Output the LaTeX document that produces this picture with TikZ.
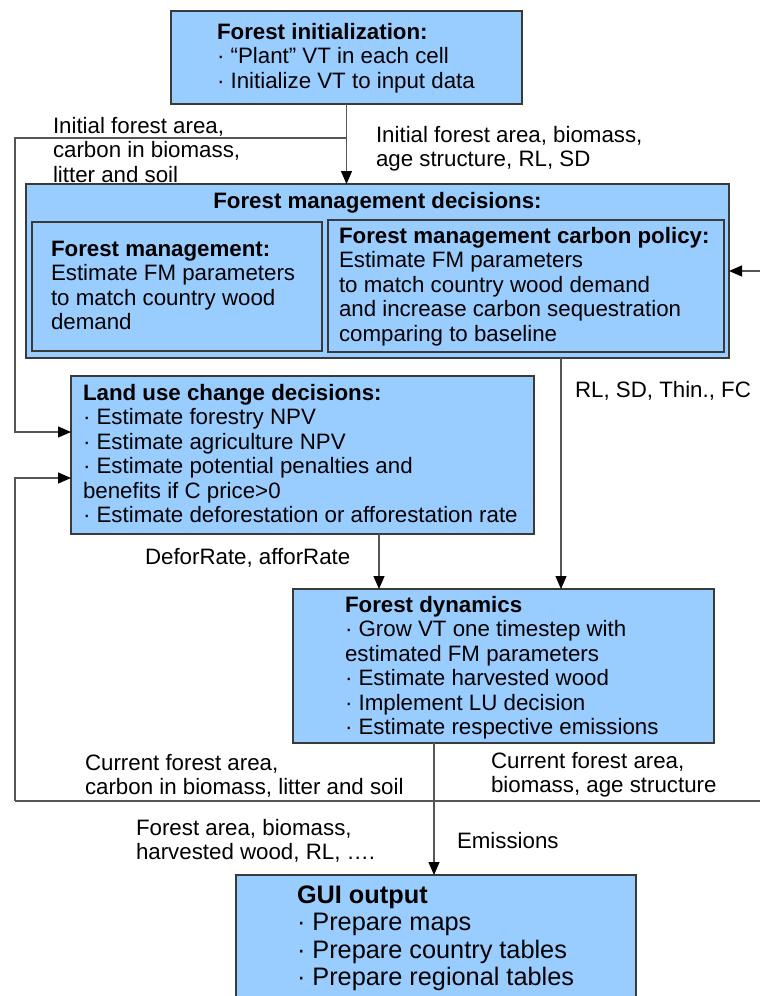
\documentclass[tikz,border=0pt]{standalone}
\usepackage{fontspec}
\setmainfont{Liberation Sans}
\usetikzlibrary{arrows.meta}
\definecolor{boxfill}{HTML}{99CCFF}
\definecolor{boxline}{HTML}{3A3A3A}
\definecolor{wirecol}{HTML}{555555}
% left-aligned lines whose baseline is that of the first line
\newcommand\ml[1]{\vtop{\let\\\cr\halign{##\hfil\cr#1\crcr}}}

\begin{document}
\begin{tikzpicture}[x=1pt,y=-1pt,
  every node/.style={font=\fontsize{22.3}{24.5}\selectfont, inner sep=0pt, outer sep=0pt},
  box/.style={draw=boxline, fill=boxfill, line width=1.3pt, anchor=north west},
  txt/.style={anchor=base west},
  wire/.style={draw=wirecol, line width=1.3pt},
  arr/.style={wire, -{Triangle[length=13pt,width=11pt,black]}}]

\useasboundingbox (0,0) rectangle (760,996);
\clip (0,0) rectangle (760,996);

% ---- boxes ----
\node[box, minimum width=351pt, minimum height=93pt]  (init) at (171,11)  {};
\node[box, minimum width=703pt, minimum height=174pt] (mgmt) at (26,184)  {};
\node[box, minimum width=290pt, minimum height=129pt] (fmL)  at (32,222)  {};
\node[box, minimum width=396pt, minimum height=132pt] (fmR)  at (328,220) {};
\node[box, minimum width=463pt, minimum height=158pt] (luc)  at (71,376)  {};
\node[box, minimum width=421pt, minimum height=154pt] (dyn)  at (293,589) {};
\node[box, minimum width=400pt, minimum height=140pt] (gui)  at (236,875) {};

% ---- box texts ----
\node[txt] (initT) at (217,39) {\ml{\textbf{Forest initialization:}\\
  · “Plant” VT in each cell\\
  · Initialize VT to input data}};
\node[anchor=base] (mgmtT) at (377.5,208) {\textbf{Forest management decisions:}};
\node[txt] (fmLT) at (51,256) {\ml{\textbf{Forest management:}\\
  Estimate FM parameters\\
  to match country wood\\
  demand}};
\node[txt] (fmRT) at (339,243) {\ml{\textbf{Forest management carbon policy:}\\
  Estimate FM parameters\\
  to match country wood demand\\
  and increase carbon sequestration\\
  comparing to baseline}};
\node[txt] (lucT) at (83,400) {\ml{\textbf{Land use change decisions:}\\
  · Estimate forestry NPV\\
  · Estimate agriculture NPV\\
  · Estimate potential penalties and\\
  benefits if C price>0\\
  · Estimate deforestation or afforestation rate}};
\node[txt] (dynT) at (345,612) {\ml{\textbf{Forest dynamics}\\
  · Grow VT one timestep with\\
  estimated FM parameters\\
  · Estimate harvested wood\\
  · Implement LU decision\\
  · Estimate respective emissions}};
\node[txt, font=\fontsize{25.3}{27.5}\selectfont] (guiT) at (297,903) {\ml{\textbf{GUI output}\\
  · Prepare maps\\
  · Prepare country tables\\
  · Prepare regional tables}};

% ---- connector labels ----
\node[txt] (l1) at (53,133)  {\ml{Initial forest area,\\carbon in biomass,\\litter and soil}};
\node[txt] (l2) at (376,142) {\ml{Initial forest area, biomass,\\age structure, RL, SD}};
\node[txt] (l3) at (575,397) {RL, SD, Thin., FC};
\node[txt] (l4) at (145,564) {DeforRate, afforRate};
\node[txt] (l5) at (85,770)  {\ml{Current forest area,\\carbon in biomass, litter and soil}};
\node[txt] (l6) at (491,768) {\ml{Current forest area,\\biomass, age structure}};
\node[txt] (l7) at (136,835) {\ml{Forest area, biomass,\\harvested wood, RL, ….}};
\node[txt] (l8) at (457,848) {Emissions};

% ---- connectors ----
\coordinate (rowA) at (0,138);
\coordinate (colL) at (15,0);
\coordinate (rowB) at (0,801);
\coordinate (colR) at (760,0);
\coordinate (colLuc) at (379,0);
\coordinate (colMg) at (561,0);
\coordinate (colDyn) at (434,0);
\coordinate (lucIn1) at ([yshift=23pt]luc.west);
\coordinate (lucIn2) at ([yshift=-23pt]luc.west);

\draw[arr] (init.south) -- (init.south |- mgmt.north);
\draw[arr] (init.south |- rowA) -- (colL |- rowA) -- (colL |- lucIn1) -- (lucIn1);
\draw[wire] (colL |- rowB) -- (colR |- rowB);
\draw[arr] (colL |- rowB) -- (colL |- lucIn2) -- (lucIn2);
\draw[arr] (colR |- mgmt.east) -- (mgmt.east);
\draw[arr] (colLuc |- luc.south) -- (colLuc |- dyn.north);
\draw[arr] (colMg |- mgmt.south) -- (colMg |- dyn.north);
\draw[arr] (colDyn |- dyn.south) -- (colDyn |- gui.north);
\end{tikzpicture}
\end{document}
